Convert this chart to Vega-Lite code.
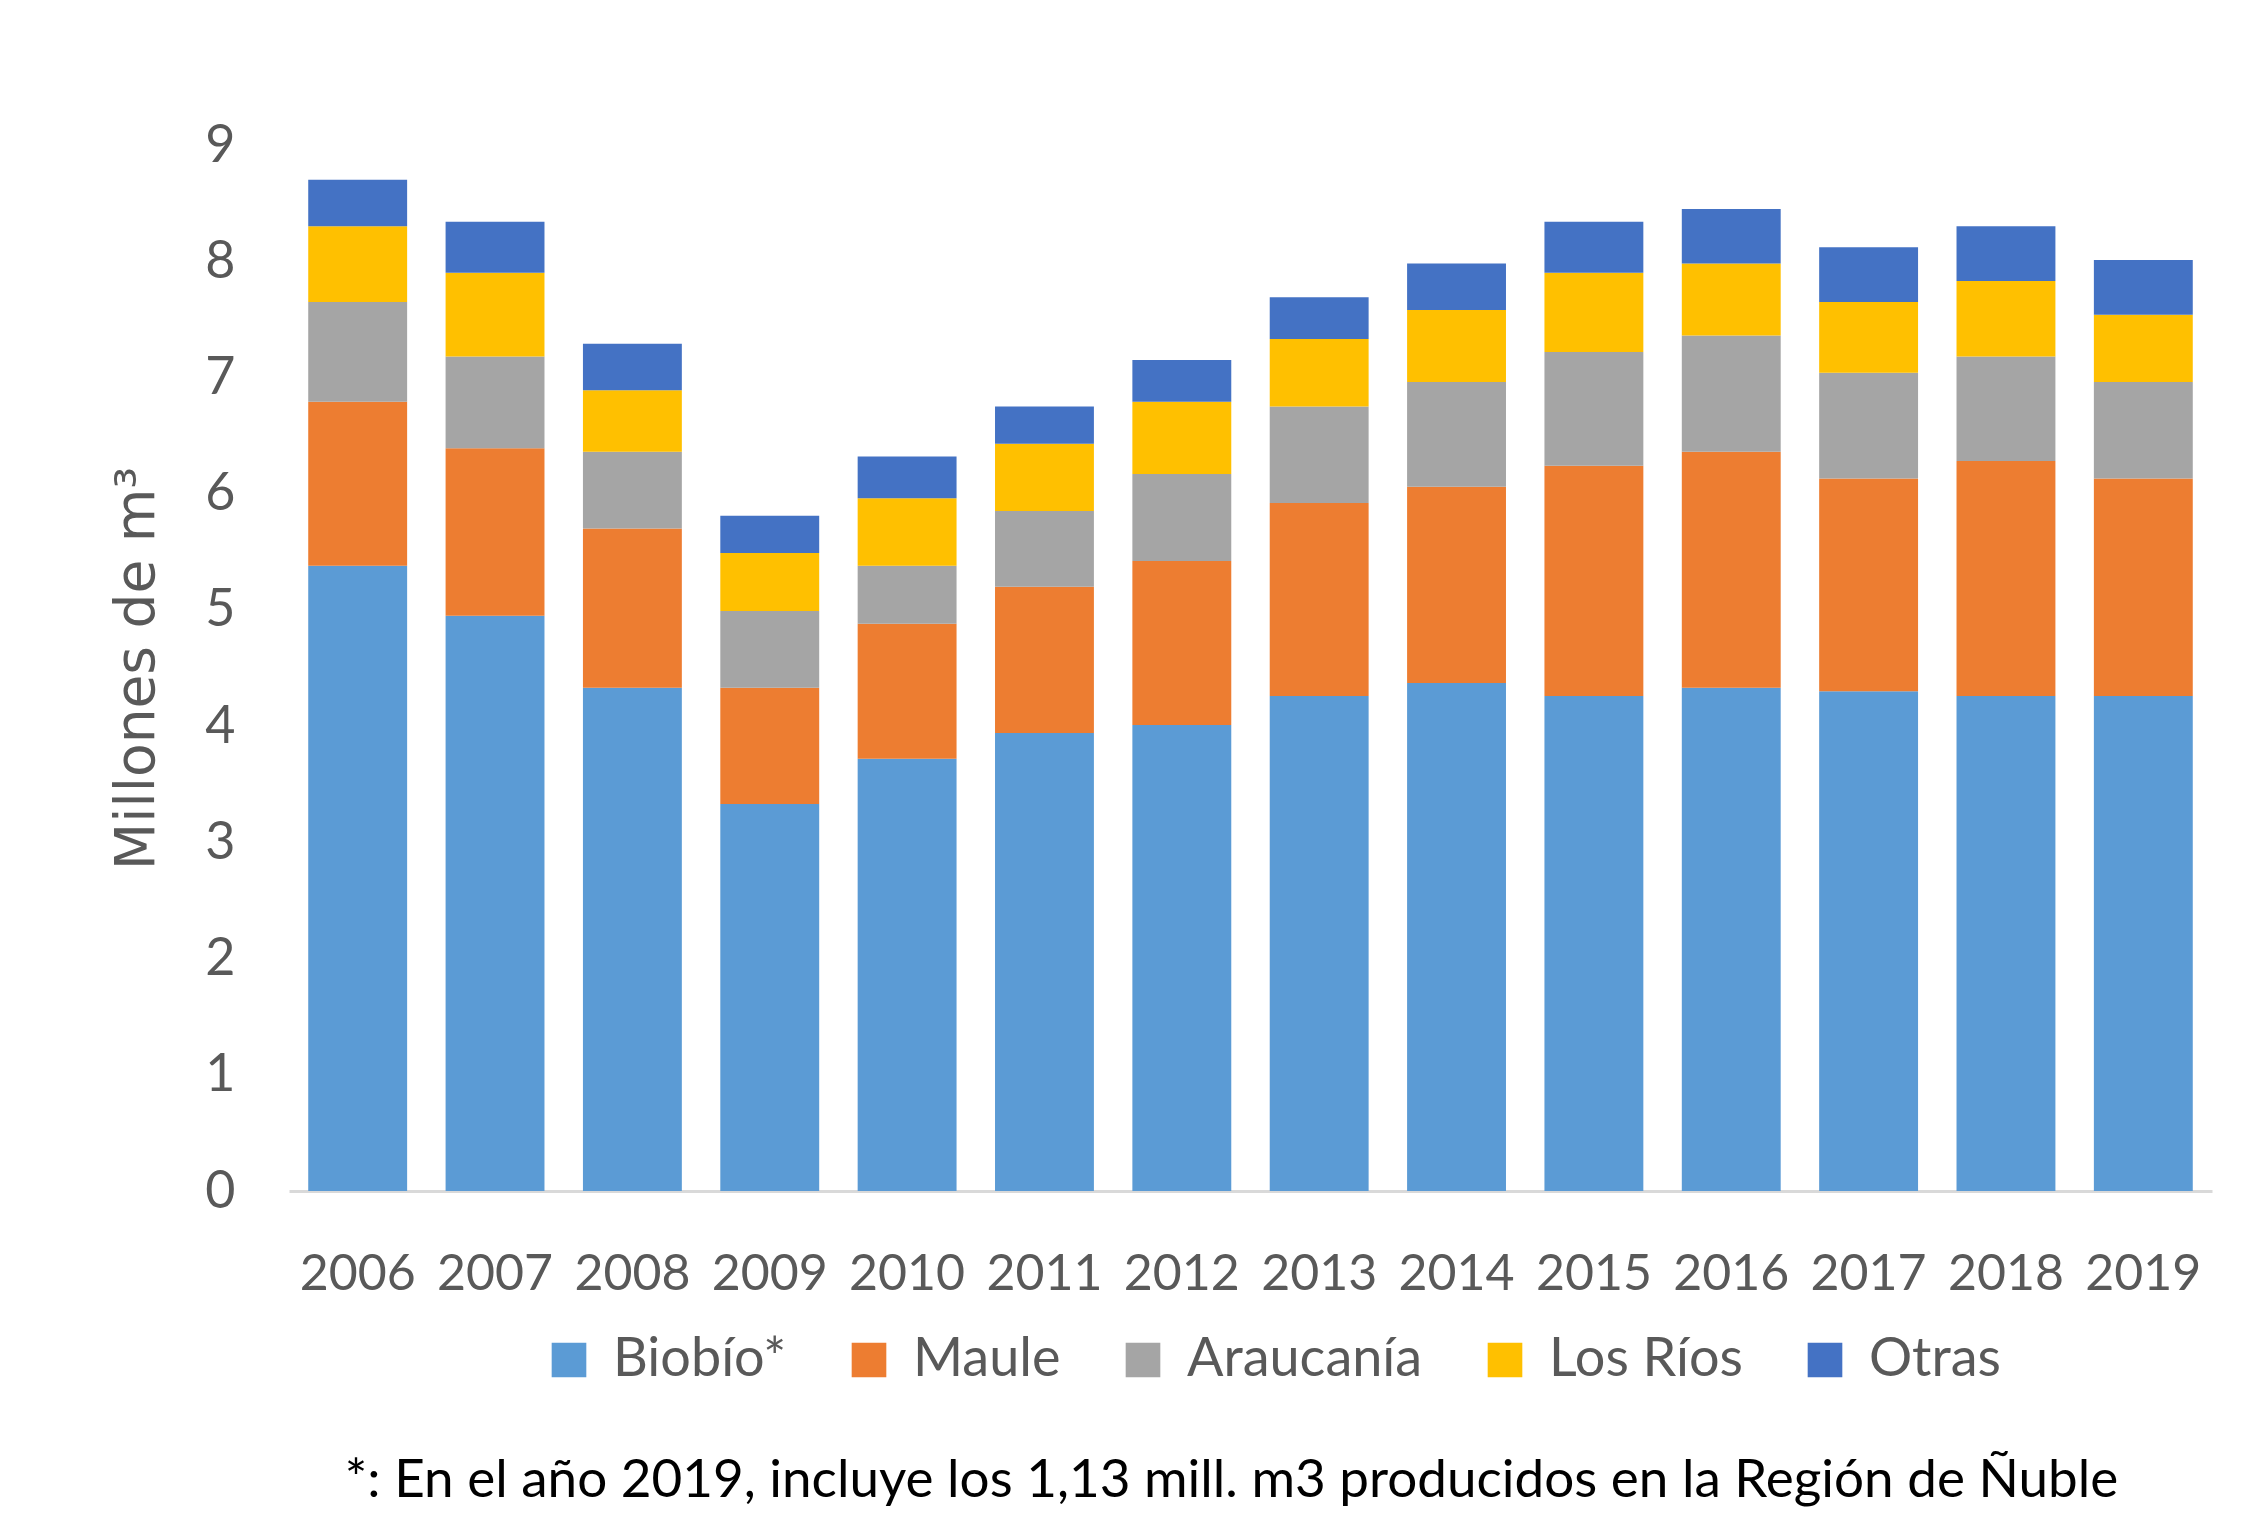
{
  "$schema": "https://vega.github.io/schema/vega-lite/v6.json",
  "width": 1923,
  "height": 1046,
  "autosize": {"type": "none"},
  "padding": {"left": 289, "top": 145, "right": 37, "bottom": 326},
  "background": "white",
  "title": {
    "text": "*: En el año 2019,  incluye los 1,13  mill. m3 producidos en la Región de Ñuble",
    "orient": "bottom",
    "anchor": "middle",
    "frame": "group",
    "font": "Lato",
    "fontSize": 53,
    "fontWeight": "normal",
    "color": "#000000",
    "offset": 68,
    "dx": -19
  },
  "data": {
    "values": [
      {"year": "2006", "region": "Biobío*", "value": 5.38},
      {"year": "2006", "region": "Maule", "value": 1.41},
      {"year": "2006", "region": "Araucanía", "value": 0.86},
      {"year": "2006", "region": "Los Ríos", "value": 0.65},
      {"year": "2006", "region": "Otras", "value": 0.40},
      {"year": "2007", "region": "Biobío*", "value": 4.95},
      {"year": "2007", "region": "Maule", "value": 1.44},
      {"year": "2007", "region": "Araucanía", "value": 0.79},
      {"year": "2007", "region": "Los Ríos", "value": 0.72},
      {"year": "2007", "region": "Otras", "value": 0.44},
      {"year": "2008", "region": "Biobío*", "value": 4.33},
      {"year": "2008", "region": "Maule", "value": 1.37},
      {"year": "2008", "region": "Araucanía", "value": 0.66},
      {"year": "2008", "region": "Los Ríos", "value": 0.53},
      {"year": "2008", "region": "Otras", "value": 0.40},
      {"year": "2009", "region": "Biobío*", "value": 3.33},
      {"year": "2009", "region": "Maule", "value": 1.00},
      {"year": "2009", "region": "Araucanía", "value": 0.66},
      {"year": "2009", "region": "Los Ríos", "value": 0.50},
      {"year": "2009", "region": "Otras", "value": 0.32},
      {"year": "2010", "region": "Biobío*", "value": 3.72},
      {"year": "2010", "region": "Maule", "value": 1.16},
      {"year": "2010", "region": "Araucanía", "value": 0.50},
      {"year": "2010", "region": "Los Ríos", "value": 0.58},
      {"year": "2010", "region": "Otras", "value": 0.36},
      {"year": "2011", "region": "Biobío*", "value": 3.94},
      {"year": "2011", "region": "Maule", "value": 1.26},
      {"year": "2011", "region": "Araucanía", "value": 0.65},
      {"year": "2011", "region": "Los Ríos", "value": 0.58},
      {"year": "2011", "region": "Otras", "value": 0.32},
      {"year": "2012", "region": "Biobío*", "value": 4.01},
      {"year": "2012", "region": "Maule", "value": 1.41},
      {"year": "2012", "region": "Araucanía", "value": 0.75},
      {"year": "2012", "region": "Los Ríos", "value": 0.62},
      {"year": "2012", "region": "Otras", "value": 0.36},
      {"year": "2013", "region": "Biobío*", "value": 4.26},
      {"year": "2013", "region": "Maule", "value": 1.66},
      {"year": "2013", "region": "Araucanía", "value": 0.83},
      {"year": "2013", "region": "Los Ríos", "value": 0.58},
      {"year": "2013", "region": "Otras", "value": 0.36},
      {"year": "2014", "region": "Biobío*", "value": 4.37},
      {"year": "2014", "region": "Maule", "value": 1.69},
      {"year": "2014", "region": "Araucanía", "value": 0.90},
      {"year": "2014", "region": "Los Ríos", "value": 0.62},
      {"year": "2014", "region": "Otras", "value": 0.40},
      {"year": "2015", "region": "Biobío*", "value": 4.26},
      {"year": "2015", "region": "Maule", "value": 1.98},
      {"year": "2015", "region": "Araucanía", "value": 0.98},
      {"year": "2015", "region": "Los Ríos", "value": 0.68},
      {"year": "2015", "region": "Otras", "value": 0.44},
      {"year": "2016", "region": "Biobío*", "value": 4.33},
      {"year": "2016", "region": "Maule", "value": 2.03},
      {"year": "2016", "region": "Araucanía", "value": 1.00},
      {"year": "2016", "region": "Los Ríos", "value": 0.62},
      {"year": "2016", "region": "Otras", "value": 0.47},
      {"year": "2017", "region": "Biobío*", "value": 4.30},
      {"year": "2017", "region": "Maule", "value": 1.83},
      {"year": "2017", "region": "Araucanía", "value": 0.91},
      {"year": "2017", "region": "Los Ríos", "value": 0.61},
      {"year": "2017", "region": "Otras", "value": 0.47},
      {"year": "2018", "region": "Biobío*", "value": 4.26},
      {"year": "2018", "region": "Maule", "value": 2.02},
      {"year": "2018", "region": "Araucanía", "value": 0.90},
      {"year": "2018", "region": "Los Ríos", "value": 0.65},
      {"year": "2018", "region": "Otras", "value": 0.47},
      {"year": "2019", "region": "Biobío*", "value": 4.26},
      {"year": "2019", "region": "Maule", "value": 1.87},
      {"year": "2019", "region": "Araucanía", "value": 0.83},
      {"year": "2019", "region": "Los Ríos", "value": 0.58},
      {"year": "2019", "region": "Otras", "value": 0.47}
    ]
  },
  "transform": [
    {"calculate": "indexof(['Biobío*', 'Maule', 'Araucanía', 'Los Ríos', 'Otras'], datum.region)", "as": "stackOrder"}
  ],
  "mark": {"type": "bar"},
  "encoding": {
    "x": {
      "field": "year",
      "type": "ordinal",
      "scale": {"paddingInner": 0.28, "paddingOuter": 0.14},
      "axis": {
        "title": null,
        "labelAngle": 0,
        "labelFont": "Lato",
        "labelFontSize": 50,
        "labelColor": "#595959",
        "labelBaseline": "middle",
        "labelPadding": 83,
        "ticks": false,
        "tickSize": 0,
        "domain": true,
        "domainColor": "#D9D9D9",
        "domainWidth": 3,
        "grid": false
      }
    },
    "y": {
      "field": "value",
      "type": "quantitative",
      "stack": "zero",
      "scale": {"domain": [0, 9], "nice": false},
      "axis": {
        "title": "Millones de m³",
        "titleFont": "DejaVu Sans",
        "titleFontSize": 55,
        "titleFontWeight": "normal",
        "titleColor": "#595959",
        "titleAngle": -90,
        "titleBaseline": "middle",
        "titleX": -153,
        "titleY": 523,
        "titleAnchor": "middle",
        "values": [0, 1, 2, 3, 4, 5, 6, 7, 8, 9],
        "labelFont": "Lato",
        "labelFontSize": 52,
        "labelColor": "#595959",
        "labelPadding": 54,
        "ticks": false,
        "tickSize": 0,
        "domain": false,
        "grid": false
      }
    },
    "order": {"field": "stackOrder", "type": "quantitative", "sort": "ascending"},
    "color": {
      "field": "region",
      "type": "nominal",
      "sort": ["Biobío*", "Maule", "Araucanía", "Los Ríos", "Otras"],
      "scale": {
        "domain": ["Biobío*", "Maule", "Araucanía", "Los Ríos", "Otras"],
        "range": ["#5B9BD5", "#ED7D31", "#A5A5A5", "#FFC000", "#4472C4"]
      },
      "legend": {
        "title": null,
        "orient": "none",
        "legendX": 253,
        "legendY": 1188,
        "direction": "horizontal",
        "symbolType": "square",
        "symbolSize": 1200,
        "symbolStrokeWidth": 0,
        "labelFont": "Lato",
        "labelFontSize": 54,
        "labelColor": "#595959",
        "labelOffset": 17,
        "columnPadding": 55,
        "labelLimit": 1000
      }
    }
  },
  "config": {
    "view": {"stroke": null}
  }
}
